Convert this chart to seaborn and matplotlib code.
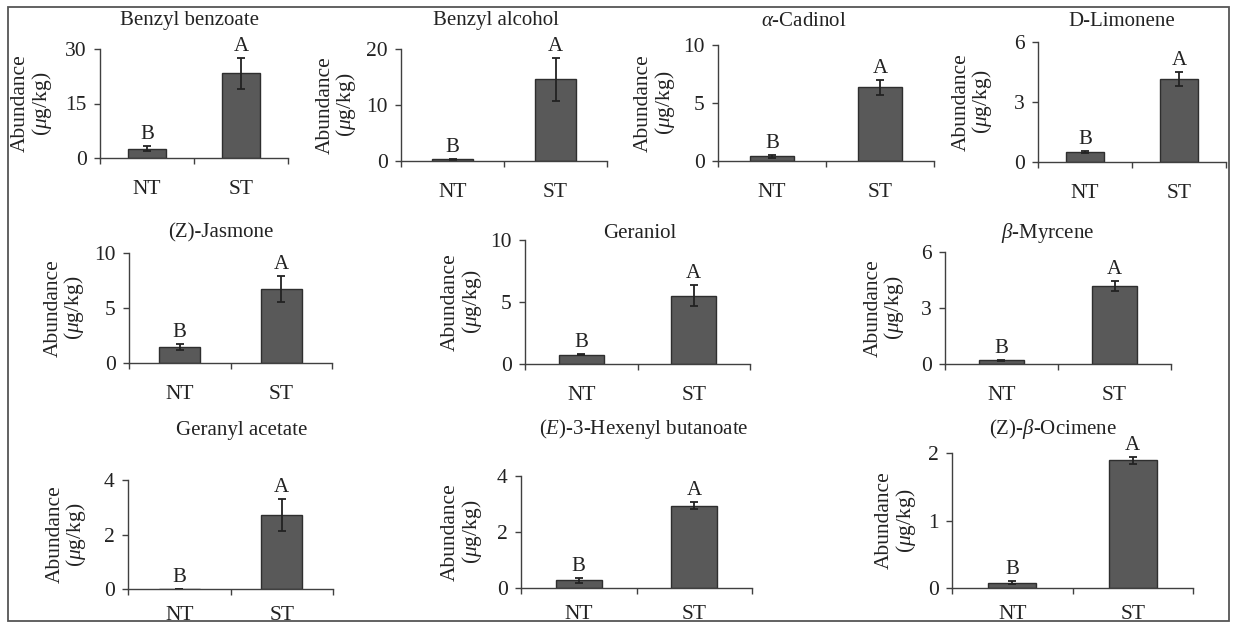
import numpy as np
import pandas as pd
import matplotlib
matplotlib.use("Agg")
import matplotlib.pyplot as plt
from matplotlib.patches import Rectangle
from matplotlib.ticker import FixedLocator, FuncFormatter
import seaborn as sns

# ---------------- data ----------------
compounds = [
    "Benzyl benzoate", "Benzyl alcohol", r"$\alpha$-Cadinol", "D-Limonene",
    "(Z)-Jasmone", "Geraniol", r"$\beta$-Myrcene",
    "Geranyl acetate", r"($E$)-3-Hexenyl butanoate", r"(Z)-$\beta$-Ocimene",
]
groups = ["NT", "ST"]
nt_mean = [2.5, 0.3, 0.4, 0.48, 1.45, 0.75, 0.21, 0.0, 0.27, 0.08]
nt_err = [0.7, 0.1, 0.1, 0.05, 0.25, 0.05, 0.03, 0.0, 0.08, 0.02]
st_mean = [23.3, 14.6, 6.35, 4.15, 6.75, 5.5, 4.17, 2.72, 2.94, 1.89]
st_err = [4.2, 3.8, 0.65, 0.35, 1.2, 0.85, 0.27, 0.6, 0.12, 0.05]
y_max = [30, 20, 10, 6, 10, 10, 6, 4, 4, 2]
nt_letters = ["B"] * 10
st_letters = ["A"] * 10

# ---------------- layout (pixels) ----------------
W, H = 1233, 627
# axes boxes: x0, y_top, x1, y_bottom
boxes = [
    (100, 49, 288, 158), (401, 49, 607, 161), (718, 45, 934, 161), (1038, 42, 1226, 162),
    (129, 253, 332, 363), (525, 240, 750, 364), (945, 252, 1171, 364),
    (128, 480, 333, 589), (521, 476, 752, 588), (952, 453, 1193, 588),
]
title_pos = [
    (189, 21), (496, 21), (804, 21), (1122, 21),
    (221, 233), (640, 233), (1048, 233),
    (242, 430), (644, 429), (1053, 429),
]
ylabel_off = [68, 64, 63, 65, 64, 63, 60, 61, 59, 56]
xlabel_pad = [16, 16, 16, 16, 16, 16, 16, 12, 12, 12]

sns.set_theme(style="ticks")
plt.rcParams["font.family"] = ["Liberation Serif", "DejaVu Serif"]
plt.rcParams["mathtext.fontset"] = "custom"
plt.rcParams["mathtext.rm"] = "Liberation Serif"
plt.rcParams["mathtext.it"] = "Liberation Serif:italic"
plt.rcParams["mathtext.bf"] = "Liberation Serif:bold"

FS = 15
BAR = "#595959"
EDGE = "#2e2e2e"
AXC = "#404040"
TXT = "#222222"

fig = plt.figure(figsize=(W / 100, H / 100), dpi=100)
fig.patch.set_facecolor("white")

for i, name in enumerate(compounds):
    x0, yt, x1, yb = boxes[i]
    ax = fig.add_axes([x0 / W, 1 - yb / H, (x1 - x0) / W, (yb - yt) / H])
    df = pd.DataFrame({"group": groups, "value": [nt_mean[i], st_mean[i]]})
    sns.barplot(data=df, x="group", y="value", ax=ax, color=BAR, saturation=1,
                width=0.4, edgecolor=EDGE, linewidth=1.0, errorbar=None)
    ax.errorbar([0, 1], [nt_mean[i], st_mean[i]], yerr=[nt_err[i], st_err[i]],
                fmt="none", ecolor="#222222", elinewidth=1.3, capsize=2.8, capthick=1.3)
    for xi, (m, e, let) in enumerate([(nt_mean[i], nt_err[i], nt_letters[i]),
                                      (st_mean[i], st_err[i], st_letters[i])]):
        ax.annotate(let, (xi, m + e), xytext=(0, 5), textcoords="offset points",
                    ha="center", va="baseline", fontsize=FS, color=TXT,
                    annotation_clip=False)
    ax.set_xlim(-0.5, 1.5)
    ax.set_ylim(0, y_max[i])
    ax.set_facecolor("none")
    ax.yaxis.set_major_locator(FixedLocator([0, y_max[i] / 2, y_max[i]]))
    ax.yaxis.set_major_formatter(FuncFormatter(lambda v, p: f"{v:g}"))
    ax.xaxis.set_minor_locator(FixedLocator([-0.5, 0.5, 1.5]))
    ax.tick_params(axis="x", which="major", length=0, pad=xlabel_pad[i],
                   labelsize=FS + 0.5, labelcolor=TXT)
    ax.tick_params(axis="x", which="minor", length=4.5, width=1.0, color=AXC, direction="out")
    ax.tick_params(axis="y", which="major", length=4.5, width=1.0, color=AXC,
                   direction="out", pad=5, labelsize=FS + 0.5, labelcolor=TXT)
    for s in ["top", "right"]:
        ax.spines[s].set_visible(False)
    for s in ["left", "bottom"]:
        ax.spines[s].set_color(AXC)
        ax.spines[s].set_linewidth(1.0)
    ax.set_xlabel("")
    ax.set_ylabel("")
    # y label
    fig.text((x0 - ylabel_off[i]) / W, 1 - ((yt + yb) / 2) / H,
             "Abundance\n($\\mu$g/kg)", rotation=90, ha="center", va="center",
             multialignment="center", fontsize=FS + 0.5, color=TXT, linespacing=1.0)
    # title
    tx, ty = title_pos[i]
    fig.text(tx / W, 1 - ty / H, name, ha="center", va="center", fontsize=FS, color=TXT)

# outer frame
fig.patches.append(Rectangle((8 / W, 1 - 621 / H), (1229 - 8) / W, (621 - 7) / H,
                             transform=fig.transFigure, fill=False,
                             edgecolor="#555555", linewidth=1.3))

fig.savefig("out.png", dpi=100, facecolor="white")
